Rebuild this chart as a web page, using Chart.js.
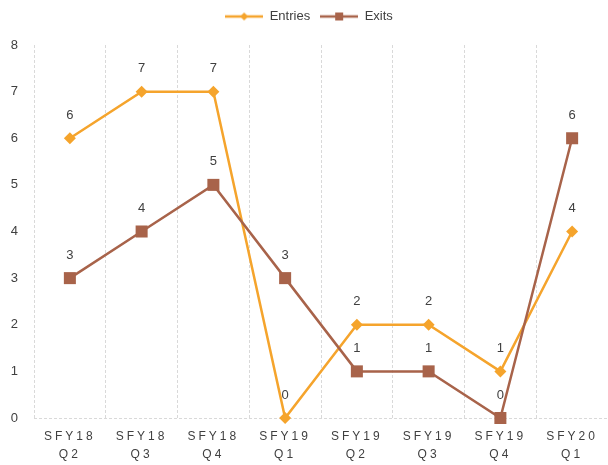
<!DOCTYPE html>
<html>
<head>
<meta charset="utf-8">
<script src="https://cdn.jsdelivr.net/npm/chart.js@4"></script>
<style>
  html, body { margin: 0; padding: 0; background: #fff; }
  #wrap { width: 608px; height: 465px; }
</style>
</head>
<body>
<div id="wrap"><canvas id="chart"></canvas></div>
<script>
const labels = [['SFY18', 'Q2'], ['SFY18', 'Q3'], ['SFY18', 'Q4'], ['SFY19', 'Q1'],
                ['SFY19', 'Q2'], ['SFY19', 'Q3'], ['SFY19', 'Q4'], ['SFY20', 'Q1']];
const entries = [6, 7, 7, 0, 2, 2, 1, 4];
const exits = [3, 4, 5, 3, 1, 1, 0, 6];
const yTicks = [0, 1, 2, 3, 4, 5, 6, 7, 8];

const ORANGE = '#F5A42C';
const BROWN = '#A8634A';
const GRID = '#D9D9D9';
const TEXT = '#404040';
const FONT = "'Liberation Sans', Arial, sans-serif";

// small line + marker picture for the legend
const legendIcon = (color, shape) => {
    const c = document.createElement('canvas');
    c.width = 38; c.height = 14;
    const g = c.getContext('2d');
    g.strokeStyle = color;
    g.lineWidth = 2.5;
    g.beginPath(); g.moveTo(0, 7); g.lineTo(38, 7); g.stroke();
    g.fillStyle = color;
    g.beginPath();
    if (shape === 'diamond') {
        g.moveTo(19, 3); g.lineTo(23, 7); g.lineTo(19, 11); g.lineTo(15, 7);
    } else {
        g.rect(15, 3, 8, 8);
    }
    g.fill();
    return c;
};
const icons = [legendIcon(ORANGE, 'diamond'), legendIcon(BROWN, 'square')];

// value labels above each point
const valueLabels = {
    id: 'valueLabels',
    afterDatasetsDraw(chart) {
        const ctx = chart.ctx;
        ctx.save();
        ctx.font = '13px ' + FONT;
        ctx.fillStyle = TEXT;
        ctx.textAlign = 'center';
        ctx.textBaseline = 'middle';
        chart.data.datasets.forEach((ds, i) => {
            chart.getDatasetMeta(i).data.forEach((pt, j) => {
                ctx.fillText(String(ds.data[j]), pt.x, pt.y - 23);
            });
        });
        ctx.restore();
    }
};

// spaced out x labels, like the original
const spacedX = {
    id: 'spacedX',
    beforeDraw(chart) {
        const s = chart.scales.x;
        if (s._spaced) return;
        const orig = s.drawLabels;
        s.drawLabels = function (area) {
            this.ctx.save();
            this.ctx.letterSpacing = '3px';
            orig.call(this, area);
            this.ctx.restore();
        };
        s._spaced = true;
    }
};

// extra room under the legend
const legendGap = {
    id: 'legendGap',
    beforeInit(chart) {
        const fit = chart.legend.fit;
        chart.legend.fit = function () {
            fit.bind(chart.legend)();
            this.height += 12;
        };
    }
};

new Chart(document.getElementById('chart'), {
    type: 'line',
    data: {
        labels: labels,
        datasets: [{
            label: 'Entries',
            data: entries,
            borderColor: ORANGE,
            backgroundColor: ORANGE,
            borderWidth: 2.5,
            pointStyle: 'rectRot',
            pointRadius: 6,
            pointBorderWidth: 0,
            tension: 0,
            clip: false,
            order: 2
        }, {
            label: 'Exits',
            data: exits,
            borderColor: BROWN,
            backgroundColor: BROWN,
            borderWidth: 2.5,
            pointStyle: 'rect',
            pointRadius: 8.5,
            pointBorderWidth: 0,
            tension: 0,
            clip: false,
            order: 1
        }]
    },
    options: {
        responsive: true,
        maintainAspectRatio: false,
        animation: false,
        layout: { autoPadding: false, padding: { left: 10, right: 0, top: 0, bottom: 1 } },
        plugins: {
            tooltip: { enabled: false },
            legend: {
                position: 'top',
                labels: {
                    usePointStyle: true,
                    pointStyleWidth: 38,
                    padding: 10,
                    color: TEXT,
                    font: { family: FONT, size: 13 },
                    sort: (a, b) => a.datasetIndex - b.datasetIndex,
                    generateLabels: (chart) => {
                        const items = Chart.defaults.plugins.legend.labels.generateLabels(chart);
                        items.forEach((it) => { it.pointStyle = icons[it.datasetIndex]; });
                        return items;
                    }
                }
            }
        },
        scales: {
            x: {
                offset: true,
                grid: { offset: true, color: GRID, drawTicks: false },
                border: { display: false, dash: [3, 2] },
                ticks: {
                    color: TEXT,
                    padding: 10,
                    maxRotation: 0,
                    font: { family: FONT, size: 12, lineHeight: 1.5 }
                },
                afterFit: (s) => {
                    s.paddingLeft = 0;
                    s.paddingRight = 0;
                    s.height = 46;
                }
            },
            y: {
                min: yTicks[0],
                max: yTicks[yTicks.length - 1],
                afterBuildTicks: (axis) => { axis.ticks = yTicks.map(v => ({ value: v })); },
                grid: {
                    drawTicks: false,
                    color: (c) => (c.tick && c.tick.value === 0 ? GRID : 'rgba(0,0,0,0)')
                },
                border: { display: false, dash: [3, 2] },
                ticks: {
                    color: TEXT,
                    padding: 16,
                    font: { family: FONT, size: 13 }
                },
                afterFit: (s) => { s.width = 24; }
            }
        }
    },
    plugins: [legendGap, spacedX, valueLabels]
});
</script>
</body>
</html>
